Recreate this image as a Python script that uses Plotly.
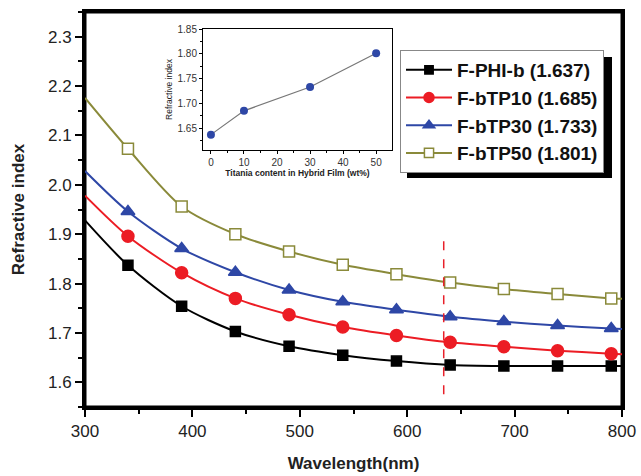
import plotly.graph_objects as go

# ---- data ----
wavelength = [300, 340, 390, 440, 490, 540, 590, 640, 690, 740, 790, 800]
n_phib = [1.928, 1.837, 1.754, 1.703, 1.673, 1.655, 1.643, 1.635, 1.633, 1.633, 1.633, 1.633]
n_btp10 = [1.978, 1.896, 1.822, 1.770, 1.737, 1.712, 1.695, 1.681, 1.672, 1.664, 1.658, 1.657]
n_btp30 = [2.028, 1.946, 1.871, 1.823, 1.787, 1.763, 1.747, 1.733, 1.723, 1.715, 1.709, 1.708]
n_btp50 = [2.176, 2.073, 1.956, 1.900, 1.865, 1.838, 1.819, 1.802, 1.789, 1.779, 1.770, 1.769]
series_names = ["F-PHI-b (1.637)", "F-bTP10 (1.685)", "F-bTP30 (1.733)", "F-bTP50 (1.801)"]

titania_wt = [0, 10, 30, 50]
titania_n = [1.637, 1.685, 1.733, 1.801]

x_ticks = [300, 400, 500, 600, 700, 800]
y_ticks = [1.6, 1.7, 1.8, 1.9, 2.0, 2.1, 2.2, 2.3]
x_range = [300, 800]
y_range = [1.55, 2.35]
laser_nm = 634

FONT = "Liberation Sans, Arial, sans-serif"

styles = [
    dict(color="#000000", symbol="square", size=10, fill="#000000"),
    dict(color="#ec1c24", symbol="circle", size=12, fill="#ec1c24"),
    dict(color="#2e47a6", symbol="triangle-up", size=12, fill="#2e47a6"),
    dict(color="#8a8a3a", symbol="square", size=11, fill="#ffffff"),
]

fig = go.Figure()

# plot frame (built from the axis ranges)
fig.add_trace(go.Scatter(
    x=[x_range[0], x_range[1], x_range[1], x_range[0], x_range[0]],
    y=[y_range[0], y_range[0], y_range[1], y_range[1], y_range[0]],
    mode="lines", line=dict(color="#000000", width=3), showlegend=False,
    hoverinfo="skip", cliponaxis=False, xaxis="x", yaxis="y",
))

for ys, name, st in zip([n_phib, n_btp10, n_btp30, n_btp50], series_names, styles):
    sizes = [0] + [st["size"]] * (len(wavelength) - 2) + [0]
    fig.add_trace(go.Scatter(
        x=wavelength, y=ys, name=name, mode="lines+markers",
        line=dict(color=st["color"], width=2, shape="spline", smoothing=0.8),
        marker=dict(symbol=st["symbol"], size=sizes, color=st["fill"], opacity=1,
                    line=dict(color=st["color"], width=1.5)),
        xaxis="x", yaxis="y",
    ))

# inset
fig.add_trace(go.Scatter(
    x=titania_wt, y=titania_n, mode="lines+markers", showlegend=False,
    line=dict(color="#777777", width=1.2),
    marker=dict(color="#2e47a6", size=8, opacity=1),
    xaxis="x2", yaxis="y2",
))

# laser line
fig.add_shape(type="line", x0=laser_nm, x1=laser_nm, y0=1.576, y1=1.904,
              xref="x", yref="y", line=dict(color="#e8202a", width=1.5, dash="dash"))

# legend shadow
fig.add_shape(type="rect", xref="paper", yref="paper",
              x0=(407 - 85) / 537, x1=(612 - 85) / 537,
              y0=(407 - 178) / 395, y1=(407 - 57) / 395,
              fillcolor="#000000", line=dict(width=0), layer="above")

tickfont = dict(family=FONT, size=17, color="#222222")
fig.update_layout(
    width=641, height=476,
    margin=dict(l=85, r=19, t=12, b=69, autoexpand=False),
    paper_bgcolor="white", plot_bgcolor="white",
    font=dict(family=FONT),
    xaxis=dict(
        range=x_range, tickvals=x_ticks, ticks="outside", ticklen=7, tickwidth=2,
        tickcolor="black", showline=True, linewidth=3, linecolor="black", mirror=True,
        showgrid=False, zeroline=False, tickfont=tickfont, automargin=False,
        minor=dict(ticks="outside", ticklen=4, tickwidth=2, tickcolor="black", dtick=50, showgrid=False),
        title=dict(text="<b>Wavelength(nm)</b>", font=dict(family=FONT, size=17, color="#222222"), standoff=17),
    ),
    yaxis=dict(
        range=y_range, tickvals=y_ticks, ticktext=[f"{v:.1f}" for v in y_ticks],
        ticks="outside", ticklen=7, tickwidth=2,
        tickcolor="black", showline=True, linewidth=3, linecolor="black", mirror=True,
        showgrid=False, zeroline=False, tickfont=tickfont, automargin=False,
        minor=dict(ticks="outside", ticklen=4, tickwidth=2, tickcolor="black", dtick=0.05, showgrid=False),
        title=dict(text="<b>Refractive index</b>", font=dict(family=FONT, size=17, color="#222222"), standoff=20),
    ),
    xaxis2=dict(
        domain=[(203 - 85) / 537, (392 - 85) / 537], anchor="y2",
        range=[-2.4, 54.8], tickvals=[0, 10, 20, 30, 40, 50], ticks="outside", ticklen=3,
        tickcolor="black", showline=True, linewidth=1, linecolor="black", mirror=True,
        showgrid=False, zeroline=False, tickfont=dict(family=FONT, size=10, color="#333333"),
        automargin=False,
        minor=dict(ticks="outside", ticklen=2, tickcolor="black", dtick=5, showgrid=False),
        title=dict(text="<b>Titania content in Hybrid Film (wt%)</b>",
                   font=dict(family=FONT, size=8.5, color="#222222"), standoff=1),
    ),
    yaxis2=dict(
        domain=[(407 - 150) / 395, (407 - 29) / 395], anchor="x2",
        range=[1.606, 1.85], tickvals=[1.65, 1.70, 1.75, 1.80, 1.85],
        ticktext=["1.65", "1.70", "1.75", "1.80", "1.85"],
        ticks="outside", ticklen=3,
        tickcolor="black", showline=True, linewidth=1, linecolor="black", mirror=True,
        showgrid=False, zeroline=False, tickfont=dict(family=FONT, size=10, color="#333333"),
        automargin=False,
        minor=dict(ticks="outside", ticklen=2, tickcolor="black", dtick=0.025, showgrid=False),
        title=dict(text="Refractive index", font=dict(family=FONT, size=8.5, color="#222222"), standoff=3),
    ),
    legend=dict(
        x=(400 - 85) / 537, y=(407 - 50) / 395, xanchor="left", yanchor="top",
        bgcolor="white", bordercolor="#888888", borderwidth=1,
        font=dict(family=FONT, size=19, color="#111111", weight="bold"),
        tracegroupgap=0, itemwidth=46,
    ),
    showlegend=True,
)

fig.write_html("out.html")
